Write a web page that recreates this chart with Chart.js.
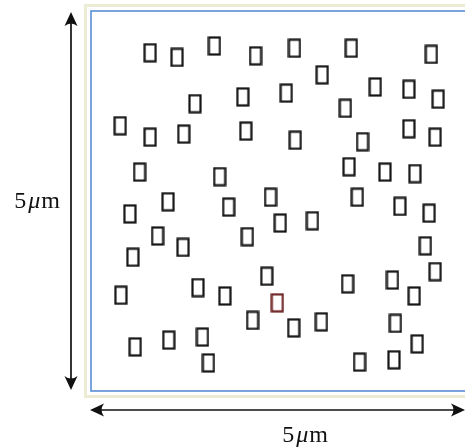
<!DOCTYPE html>
<html>
<head>
<meta charset="utf-8">
<script src="https://cdn.jsdelivr.net/npm/chart.js@4"></script>
<style>
  html, body { margin: 0; padding: 0; background: #fff; overflow: hidden; }
  #wrap { width: 465px; height: 447px; }
</style>
</head>
<body>
<div id="wrap"><canvas id="grainChart" width="465" height="447"></canvas></div>
<script>
// grain positions in micrometres (origin bottom-left of the 5um field)
const grainX = [0.79, 1.15, 1.65, 2.20, 2.72, 3.48, 4.55, 3.09, 3.80, 4.25, 4.64, 1.39, 2.03, 2.61, 3.40,
  0.39, 0.79, 1.24, 2.07, 2.73, 3.63, 4.25, 4.60, 0.65, 1.72, 3.45, 3.93, 4.33, 0.52, 1.03, 1.84,
  2.40, 3.56, 4.13, 4.52, 2.53, 2.96, 0.89, 1.23, 2.09, 0.56, 4.47, 2.35, 4.60, 0.40, 1.43, 1.79,
  2.49, 3.43, 4.03, 4.32, 2.16, 2.71, 3.08, 4.07, 0.59, 1.04, 1.49, 1.57, 3.59, 4.05, 4.36];
const grainY = [4.45, 4.39, 4.54, 4.41, 4.51, 4.51, 4.43, 4.16, 4.00, 3.97, 3.84, 3.78, 3.87, 3.92, 3.72,
  3.49, 3.34, 3.38, 3.42, 3.30, 3.28, 3.45, 3.34, 2.88, 2.82, 2.95, 2.88, 2.86, 2.33, 2.49, 2.42,
  2.55, 2.55, 2.43, 2.34, 2.21, 2.24, 2.04, 1.89, 2.03, 1.76, 1.91, 1.51, 1.57, 1.26, 1.36, 1.25,
  1.16, 1.41, 1.46, 1.25, 0.93, 0.83, 0.91, 0.89, 0.58, 0.67, 0.71, 0.37, 0.38, 0.41, 0.62];
// index of the one grain outlined in red
const redGrain = 47;
const fieldSize = 5;

function makeGrainIcon(color) {
  const c = document.createElement('canvas');
  c.width = 14; c.height = 20;
  const g = c.getContext('2d');
  g.strokeStyle = color;
  g.lineWidth = 2.2;
  g.strokeRect(1.5, 1.5, 11, 17);
  return c;
}
const blackIcon = makeGrainIcon('#151515');
const redIcon = makeGrainIcon('#6e2323');

const points = grainX.map((x, i) => ({ x: x, y: grainY[i] }));
const styles = grainX.map((_, i) => i === redGrain ? redIcon : blackIcon);

function arrowHead(ctx, x, y, angle) {
  ctx.save();
  ctx.translate(x, y);
  ctx.rotate(angle);
  ctx.beginPath();
  ctx.moveTo(0, 0);
  ctx.lineTo(-14, -6.5);
  ctx.quadraticCurveTo(-9, 0, -14, 6.5);
  ctx.closePath();
  ctx.fill();
  ctx.restore();
}

function drawLabel(ctx, cx, baseline) {
  ctx.textBaseline = 'alphabetic';
  ctx.textAlign = 'left';
  const up = '24px "Liberation Serif", "DejaVu Serif", serif';
  const it = 'italic 24px "Liberation Serif", "DejaVu Serif", serif';
  ctx.font = up; const w5 = ctx.measureText('5').width;
  const wm = ctx.measureText('m').width;
  ctx.font = it; const wmu = ctx.measureText('μ').width;
  const total = w5 + 2 + wmu + 1 + wm;
  let x = cx - total / 2;
  ctx.font = up; ctx.fillText('5', x, baseline); x += w5 + 2;
  ctx.font = it; ctx.fillText('μ', x, baseline); x += wmu + 1;
  ctx.font = up; ctx.fillText('m', x, baseline);
}

// frame around the field plus the two scale arrows
const framePlugin = {
  id: 'frame',
  afterDatasetsDraw(chart) {
    const ctx = chart.ctx;
    const a = chart.chartArea;
    ctx.save();
    ctx.strokeStyle = '#ecebd3';
    ctx.lineWidth = 3;
    ctx.strokeRect(a.left - 5.5, a.top - 5.5, a.right - a.left + 20, a.bottom - a.top + 11);
    ctx.strokeStyle = '#4f86d4';
    ctx.lineWidth = 1.5;
    ctx.strokeRect(a.left, a.top, a.right - a.left + 10, a.bottom - a.top);

    ctx.strokeStyle = '#111';
    ctx.fillStyle = '#111';
    ctx.lineWidth = 1.7;
    const vx = a.left - 20;
    ctx.beginPath();
    ctx.moveTo(vx, a.top + 6);
    ctx.lineTo(vx, a.bottom - 6);
    ctx.stroke();
    arrowHead(ctx, vx, a.top + 1, -Math.PI / 2);
    arrowHead(ctx, vx, a.bottom - 1, Math.PI / 2);

    const hy = a.bottom + 19;
    ctx.beginPath();
    ctx.moveTo(a.left + 5, hy);
    ctx.lineTo(chart.width - 5, hy);
    ctx.stroke();
    arrowHead(ctx, a.left - 1, hy, Math.PI);
    arrowHead(ctx, chart.width, hy, 0);

    drawLabel(ctx, 37, 208);
    drawLabel(ctx, 305, 442);
    ctx.restore();
  }
};

new Chart(document.getElementById('grainChart'), {
  type: 'scatter',
  data: {
    datasets: [{
      label: 'grains',
      data: points,
      pointStyle: styles,
      pointRadius: 8,
      pointHoverRadius: 8
    }]
  },
  options: {
    responsive: false,
    animation: false,
    layout: { autoPadding: false, padding: { left: 91, top: 11, right: 0, bottom: 56 } },
    plugins: {
      legend: { display: false },
      tooltip: { enabled: false }
    },
    events: [],
    scales: {
      x: { type: 'linear', min: 0, max: fieldSize, display: false },
      y: { type: 'linear', min: 0, max: fieldSize, display: false }
    }
  },
  plugins: [framePlugin]
});
</script>
</body>
</html>
